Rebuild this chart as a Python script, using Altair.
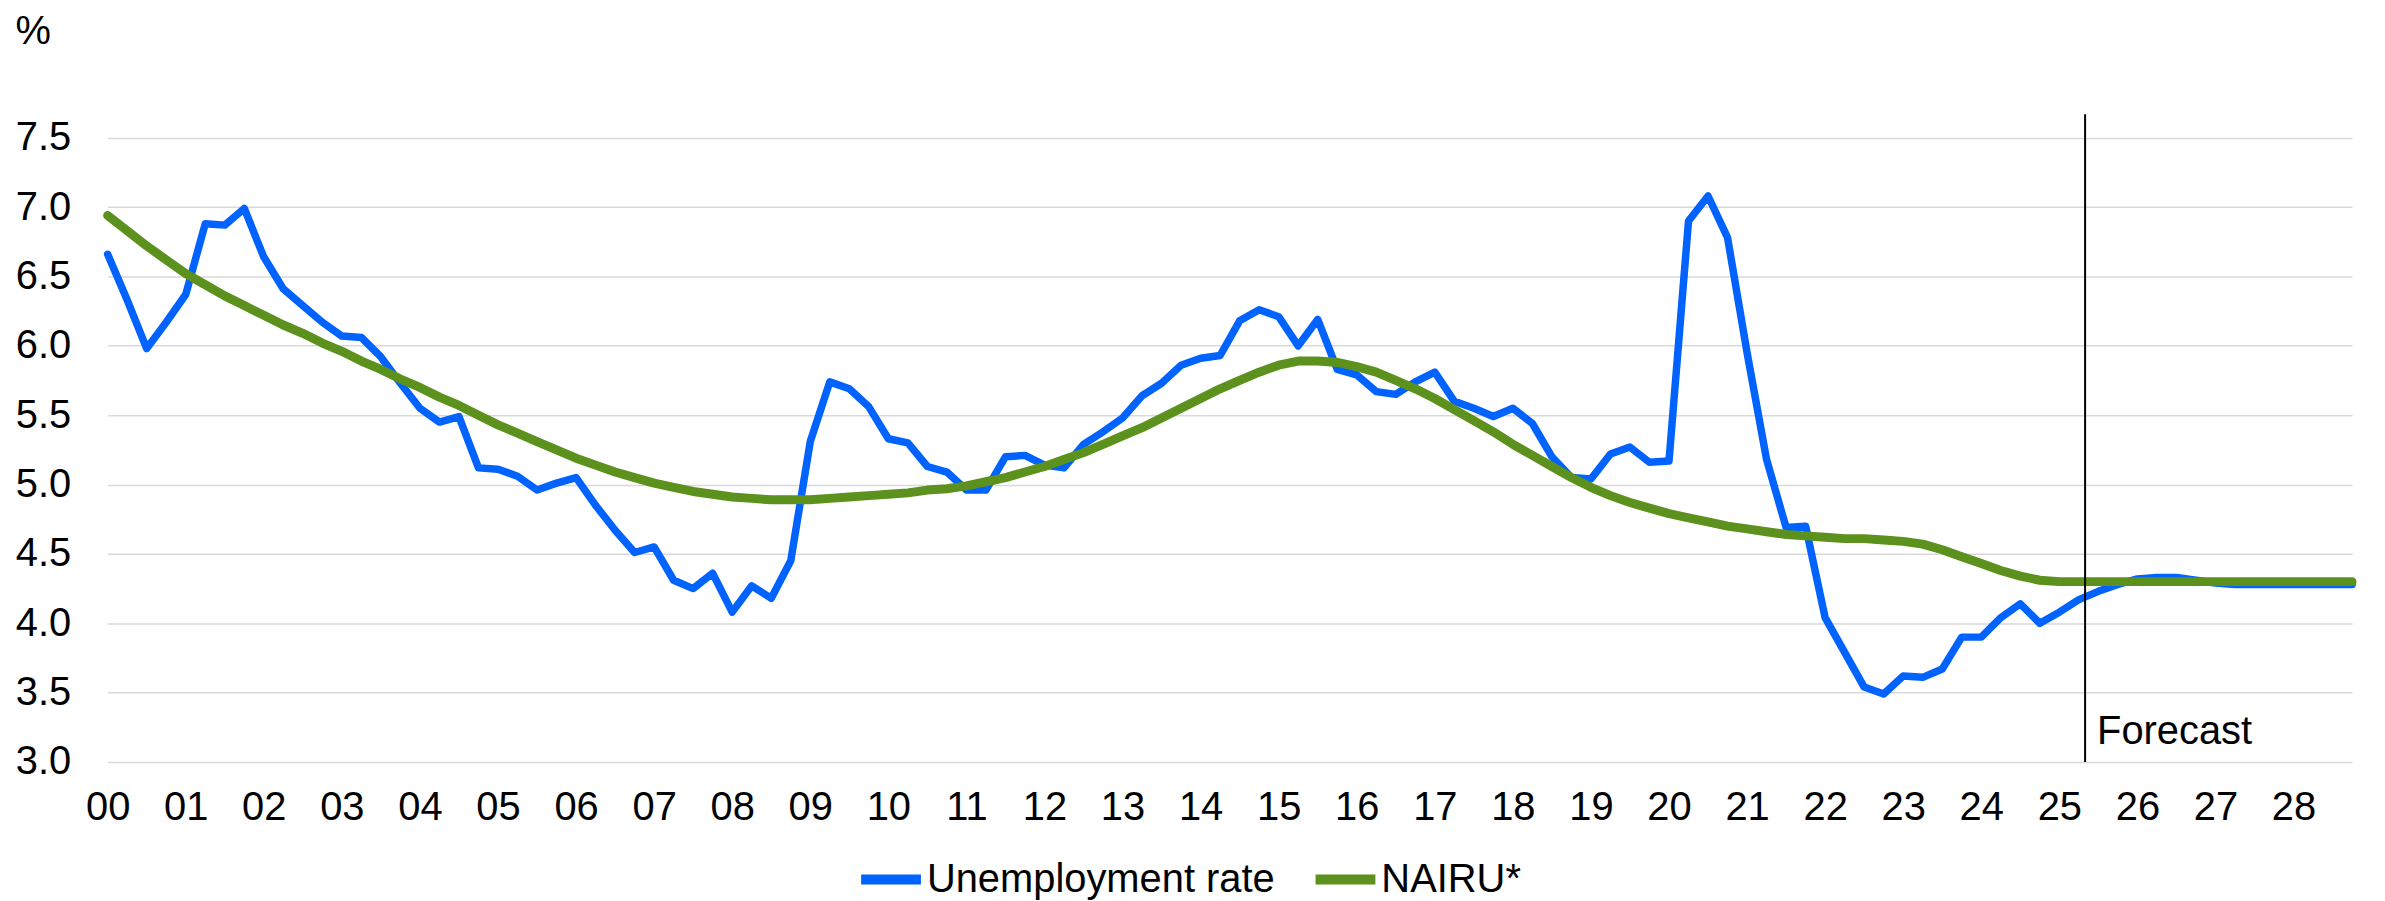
import altair as alt
import pandas as pd

# quarters as years since 2000 (2000Q1 ... 2028Q4)
quarters = [i / 4 for i in range(116)]

unemployment = [
    6.66, 6.33, 5.98, 6.17, 6.37, 6.88, 6.87, 6.99,
    6.64, 6.41, 6.29, 6.17, 6.07, 6.06, 5.92, 5.73,
    5.55, 5.45, 5.49, 5.12, 5.11, 5.06, 4.96, 5.01,
    5.05, 4.85, 4.67, 4.51, 4.55, 4.31, 4.25, 4.36,
    4.08, 4.27, 4.18, 4.45, 5.31, 5.74, 5.69, 5.56,
    5.33, 5.30, 5.13, 5.09, 4.96, 4.96, 5.20, 5.21,
    5.14, 5.12, 5.29, 5.38, 5.48, 5.64, 5.73, 5.86,
    5.91, 5.93, 6.18, 6.26, 6.21, 6.00, 6.19, 5.83,
    5.79, 5.67, 5.65, 5.74, 5.81, 5.60, 5.55, 5.49,
    5.55, 5.44, 5.20, 5.05, 5.04, 5.22, 5.27, 5.16,
    5.17, 6.90, 7.08, 6.78, 5.95, 5.18, 4.69, 4.70,
    4.04, 3.79, 3.54, 3.49, 3.62, 3.61, 3.67, 3.90,
    3.90, 4.04, 4.14, 4.00, 4.08, 4.17, 4.23, 4.28,
    4.32, 4.33, 4.33, 4.31, 4.29, 4.28, 4.28, 4.28,
    4.28, 4.28, 4.28, 4.28,
]

nairu = [
    6.94, 6.83, 6.72, 6.62, 6.52, 6.44, 6.36, 6.29,
    6.22, 6.15, 6.09, 6.02, 5.96, 5.89, 5.83, 5.76,
    5.70, 5.63, 5.57, 5.50, 5.43, 5.37, 5.31, 5.25,
    5.19, 5.14, 5.09, 5.05, 5.01, 4.98, 4.95, 4.93,
    4.91, 4.90, 4.89, 4.89, 4.89, 4.90, 4.91, 4.92,
    4.93, 4.94, 4.96, 4.97, 4.99, 5.02, 5.05, 5.09,
    5.13, 5.18, 5.23, 5.29, 5.35, 5.41, 5.48, 5.55,
    5.62, 5.69, 5.75, 5.81, 5.86, 5.89, 5.89, 5.88,
    5.85, 5.81, 5.75, 5.69, 5.62, 5.54, 5.46, 5.38,
    5.29, 5.21, 5.13, 5.05, 4.98, 4.92, 4.87, 4.83,
    4.79, 4.76, 4.73, 4.70, 4.68, 4.66, 4.64, 4.63,
    4.62, 4.61, 4.61, 4.60, 4.59, 4.57, 4.53, 4.48,
    4.43, 4.38, 4.34, 4.31, 4.30, 4.30, 4.30, 4.30,
    4.30, 4.30, 4.30, 4.30, 4.30, 4.30, 4.30, 4.30,
    4.30, 4.30, 4.30, 4.30,
]

series_names = ["Unemployment rate", "NAIRU*"]
series_colors = ["#0062ff", "#5b911c"]
tick_years = list(range(29))
y_ticks = [3.0, 3.5, 4.0, 4.5, 5.0, 5.5, 6.0, 6.5, 7.0, 7.5]
forecast_start = [25.33]
forecast_label = ["Forecast"]

FONT = "Liberation Sans"
FS = 40

df = pd.DataFrame({
    "t": quarters + quarters,
    "value": unemployment + nairu,
    "series": [series_names[0]] * len(quarters) + [series_names[1]] * len(quarters),
})
df_rule = pd.DataFrame({"t": forecast_start, "y0": [3.0], "y1": [7.67]})
df_text = pd.DataFrame({"t": forecast_start, "y": [3.13], "label": forecast_label})

x_enc = alt.X(
    "t:Q",
    scale=alt.Scale(domain=[0, 28.75], nice=False, zero=False),
    axis=alt.Axis(
        values=tick_years,
        labelExpr="datum.value < 10 ? '0' + datum.value : '' + datum.value",
        grid=False, domain=False, ticks=False, labelPadding=26,
        labelFlush=False, labelOverlap=False, labelFontSize=FS, title=None,
    ),
)
y_enc = alt.Y(
    "value:Q",
    scale=alt.Scale(domain=[3, 7.67], nice=False, zero=False),
    axis=alt.Axis(
        values=y_ticks, format=".1f", grid=True, gridColor="#d9d9d9",
        gridWidth=1.5, domain=False, ticks=False, labelPadding=37,
        labelFontSize=FS, title="%", titleAngle=0, titleX=-93, titleY=-71,
        titleAlign="left", titleBaseline="alphabetic", titleFontSize=40,
        titleFontWeight="normal",
    ),
)
color_enc = alt.Color(
    "series:N",
    scale=alt.Scale(domain=series_names, range=series_colors),
    legend=alt.Legend(
        title=None, orient="none", legendX=751, legendY=733,
        direction="horizontal", symbolType="stroke", symbolSize=3600,
        symbolStrokeWidth=10, labelFontSize=FS, labelFont=FONT,
        labelColor="black", columnPadding=20, labelOffset=1, padding=0,
        labelLimit=1000,
    ),
)

base = alt.Chart(df)
blue = base.transform_filter(alt.datum.series == series_names[0]).mark_line(
    strokeWidth=7.5, strokeJoin="round", strokeCap="round"
).encode(x=x_enc, y=y_enc, color=color_enc)
green = base.transform_filter(alt.datum.series == series_names[1]).mark_line(
    strokeWidth=9, strokeJoin="round", strokeCap="round"
).encode(x=x_enc, y=y_enc, color=color_enc)

rule = alt.Chart(df_rule).mark_rule(color="black", strokeWidth=2).encode(
    x="t:Q", y="y0:Q", y2="y1:Q"
)
text = alt.Chart(df_text).mark_text(
    align="left", baseline="alphabetic", dx=12, fontSize=FS, font=FONT, color="black"
).encode(x="t:Q", y="y:Q", text="label:N")

chart = alt.layer(blue, green, rule, text).properties(
    width=2252, height=650,
    padding={"left": 100, "top": 105, "right": 25, "bottom": 138},
    autosize=alt.AutoSizeParams(type="none"),
).configure_view(stroke=None).configure_axis(
    labelFont=FONT, titleFont=FONT, labelColor="black", titleColor="black"
)

chart.save("out.html", embed_options={"renderer": "svg", "actions": False})
